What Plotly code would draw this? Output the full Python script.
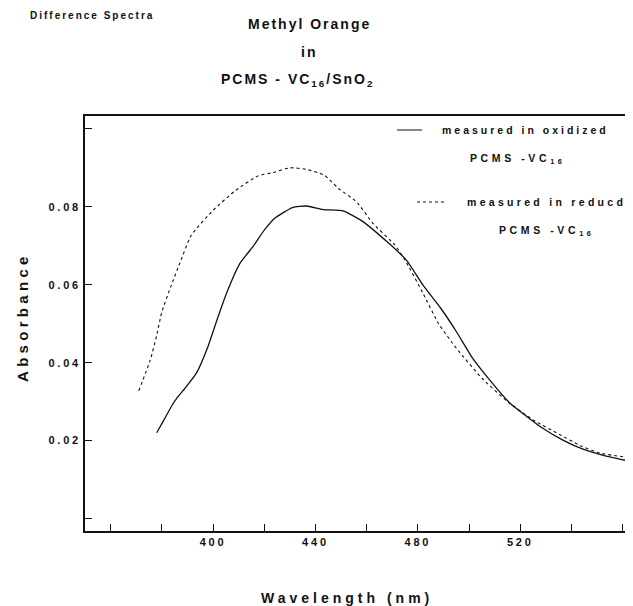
import plotly.graph_objects as go

# Data
wl_oxidized = [378, 381, 383.5, 386, 389.5, 393.5, 398, 401.5, 405.5, 410.5, 415.5, 420, 424,
               431, 436.5, 443, 451, 458.5, 468, 475.5, 482, 489, 495, 501, 508, 516, 522.5,
               528, 537, 544.5, 552, 564]
abs_oxidized = [0.0220, 0.0255, 0.0285, 0.0310, 0.0338, 0.0373, 0.0441, 0.0509, 0.0582, 0.0655,
                0.0697, 0.0740, 0.0770, 0.0798, 0.0802, 0.0793, 0.0789, 0.0762, 0.0710, 0.0663,
                0.0599, 0.0539, 0.0480, 0.0415, 0.0356, 0.0296, 0.0262, 0.0235, 0.0200, 0.0178,
                0.0163, 0.0145]

wl_reduced = [371, 375.5, 378, 380, 383.5, 387, 391.5, 400, 409, 417.5, 423.5, 430, 436.5, 443.5,
              449, 456, 462.5, 471, 475, 482, 488, 495, 505, 515, 525, 535.5, 543.5, 551, 564]
abs_reduced = [0.0328, 0.0407, 0.0470, 0.0530, 0.0595, 0.0655, 0.0727, 0.0791, 0.0843, 0.0879,
               0.0888, 0.0900, 0.0896, 0.0881, 0.0847, 0.0813, 0.0757, 0.0702, 0.0663, 0.0578,
               0.0501, 0.0437, 0.0360, 0.0300, 0.0253, 0.0215, 0.0187, 0.0168, 0.0155]

x_tickvals = [400, 440, 480, 520]
x_ticktext = ["400", "440", "480", "520"]
y_tickvals = [0.02, 0.04, 0.06, 0.08]
y_ticktext = ["0.02", "0.04", "0.06", "0.08"]

FONT = "Liberation Sans"
OFF = 8  # page body margin


def sp(text, ls):
    return '<span style="letter-spacing:%spx">%s</span>' % (ls, text)


fig = go.Figure()
fig.add_trace(go.Scatter(x=wl_oxidized, y=abs_oxidized, mode="lines",
                         line=dict(color="#111", width=1.3, shape="spline", smoothing=0.5),
                         showlegend=False))
fig.add_trace(go.Scatter(x=wl_reduced, y=abs_reduced, mode="lines",
                         line=dict(color="#111", width=1.1, dash="3px,3px", shape="spline", smoothing=0.5),
                         showlegend=False))

W, H = 633 - OFF, 606 - OFF
L, T, B = 85 - OFF, 116 - OFF, 531 - OFF
PW, PH = W - L, B - T


def px(x):
    return (x - OFF - L) / PW


def py(y):
    return (B - (y - OFF)) / PH


annotations = []


def ann(text, x, y, size, xanchor="center", textangle=0):
    annotations.append(dict(text=text, x=px(x), y=py(y), xref="paper", yref="paper",
                            showarrow=False, xanchor=xanchor, yanchor="middle",
                            textangle=textangle,
                            font=dict(family=FONT, size=size, color="#111", weight="bold")))


ann(sp("Difference Spectra", 2), 28, 15, 10, xanchor="left")
ann(sp("Methyl Orange", 2), 309, 24, 14)
ann(sp("in", 2), 309, 52, 14)
ann(sp("PCMS - VC<sub>16</sub>/SnO<sub>2</sub>", 2), 297, 80, 14)
ann(sp("measured in oxidized", 3), 440, 130, 10.5, xanchor="left")
ann(sp("PCMS -VC<sub>16</sub>", 3.6), 468, 159, 10.5, xanchor="left")
ann(sp("measured in reducd", 3.3), 465, 202, 10.5, xanchor="left")
ann(sp("PCMS -VC<sub>16</sub>", 3.6), 497, 231, 10.5, xanchor="left")
ann(sp("Absorbance", 4.3), 22, 317, 15, textangle=-90)
ann(sp("Wavelength (nm)", 4), 347, 598, 14)

shapes = [
    dict(type="line", xref="paper", yref="paper", x0=px(397), x1=px(422), y0=py(130), y1=py(130),
         line=dict(color="#111", width=1)),
    dict(type="line", xref="paper", yref="paper", x0=px(417), x1=px(447), y0=py(202), y1=py(202),
         line=dict(color="#111", width=1, dash="3px,3px")),
]

fig.update_layout(
    width=W, height=H,
    margin=dict(l=L, r=0, t=T, b=H - B, pad=0),
    paper_bgcolor="white", plot_bgcolor="white",
    annotations=annotations, shapes=shapes,
    xaxis=dict(range=[350, 564], tickvals=x_tickvals, ticktext=[sp(t, 2.8) for t in x_ticktext],
               ticks="inside", ticklen=7, tickwidth=1.2, tickcolor="#111",
               minor=dict(tick0=360, dtick=20, ticks="inside", ticklen=7, tickwidth=1.2, tickcolor="#111",
                          showgrid=False),
               showline=True, linecolor="#111", linewidth=1.6, mirror=True,
               showgrid=False, zeroline=False,
               tickfont=dict(family=FONT, size=11, color="#111", weight="bold")),
    yaxis=dict(range=[-0.0032, 0.1033], tickvals=y_tickvals, ticktext=[sp(t, 2.8) for t in y_ticktext],
               ticks="inside", ticklen=7, tickwidth=1.2, tickcolor="#111",
               minor=dict(tick0=0, dtick=0.02, ticks="inside", ticklen=7, tickwidth=1.2, tickcolor="#111",
                          showgrid=False),
               showline=True, linecolor="#111", linewidth=1.6, mirror=False,
               showgrid=False, zeroline=False,
               tickfont=dict(family=FONT, size=11, color="#111", weight="bold")),
)

fig.write_html("out.html")
